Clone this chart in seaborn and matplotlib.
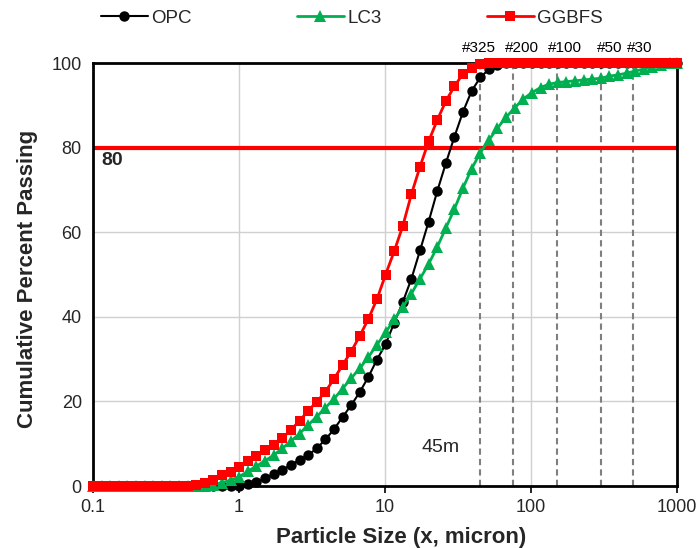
import matplotlib
matplotlib.use("Agg")
import matplotlib.pyplot as plt
import seaborn as sns
import pandas as pd

# Particle size bins (micron)
sizes = [0.100, 0.115, 0.131, 0.150, 0.172, 0.197, 0.226, 0.259, 0.296, 0.339,
         0.389, 0.445, 0.510, 0.584, 0.669, 0.766, 0.877, 1.005, 1.151, 1.318,
         1.510, 1.729, 1.981, 2.269, 2.599, 2.976, 3.409, 3.905, 4.472, 5.122,
         5.867, 6.720, 7.697, 8.816, 10.097, 11.565, 13.246, 15.172, 17.377, 19.904,
         22.797, 26.111, 29.907, 34.255, 39.234, 44.938, 51.471, 58.953, 67.523, 77.339,
         88.583, 101.46, 116.21, 133.10, 152.45, 174.62, 200.00, 229.07, 262.37, 300.51,
         344.20, 394.24, 451.55, 517.20, 592.39, 678.50, 777.14, 890.12, 1000.0]

# Cumulative percent passing
opc = [0, 0, 0, 0, 0, 0, 0, 0, 0, 0,
       0, 0, 0, 0, 0, 0, 0, 0.1, 0.4, 1.0,
       1.8, 2.8, 3.8, 5.0, 6.2, 7.3, 8.9, 11.0, 13.4, 16.3,
       19.1, 22.2, 25.8, 29.9, 33.5, 38.6, 43.5, 49.0, 55.7, 62.5,
       69.7, 76.3, 82.6, 88.5, 93.4, 96.6, 98.5, 99.6, 100, 100,
       100, 100, 100, 100, 100, 100, 100, 100, 100, 100,
       100, 100, 100, 100, 100, 100, 100, 100, 100]

lc3 = [0, 0, 0, 0, 0, 0, 0, 0, 0, 0,
       0, 0, 0, 0.1, 0.3, 0.8, 1.4, 2.2, 3.5, 4.7,
       6.0, 7.3, 8.9, 10.6, 12.4, 14.4, 16.4, 18.5, 20.6, 23.0,
       25.5, 27.8, 30.5, 33.4, 36.3, 39.4, 42.3, 45.5, 49.0, 52.5,
       56.5, 61.0, 65.5, 70.5, 75.0, 78.8, 81.8, 84.6, 87.2, 89.4,
       91.5, 93.0, 94.2, 95.0, 95.4, 95.6, 95.8, 96.0, 96.2, 96.4,
       96.9, 97.2, 97.6, 98.1, 98.6, 99.1, 99.5, 99.9, 100]

ggbfs = [0, 0, 0, 0, 0, 0, 0, 0, 0, 0,
         0, 0, 0.2, 0.6, 1.5, 2.6, 3.4, 4.5, 5.9, 7.1,
         8.5, 9.8, 11.3, 13.3, 15.4, 17.8, 19.9, 22.3, 25.3, 28.6,
         31.8, 35.5, 39.5, 44.2, 50.0, 55.5, 61.5, 69.0, 75.5, 81.5,
         86.5, 91.0, 94.5, 97.5, 98.9, 99.8, 100, 100, 100, 100,
         100, 100, 100, 100, 100, 100, 100, 100, 100, 100,
         100, 100, 100, 100, 100, 100, 100, 100, 100]

# Sieve openings (micron), their designations and where the labels sit
sieve_sizes = [45, 75, 150, 300, 500]
sieve_labels = ["#325", "#200", "#100", "#50", "#30"]
sieve_label_x = [44, 87, 171, 348, 558]

x_ticks = [0.1, 1, 10, 100, 1000]
x_tick_labels = ["0.1", "1", "10", "100", "1000"]
y_ticks = [0, 20, 40, 60, 80, 100]

df = pd.DataFrame({"size": sizes, "OPC": opc, "LC3": lc3, "GGBFS": ggbfs})

sns.set_theme(style="white")
plt.rcParams["font.family"] = ["Liberation Sans", "DejaVu Sans"]

fig = plt.figure(figsize=(6.97, 5.48), dpi=100)
ax = fig.add_axes([0.1334, 0.1131, 0.8379, 0.7719])

ax.set_xscale("log")
ax.set_xlim(0.1, 1000)
ax.set_ylim(0, 100)

# light grid at decades and every 20 %
for xv in [1, 10, 100]:
    ax.axvline(xv, color="#D0D0D0", lw=1.0, zorder=0)
for yv in [20, 40, 60, 80]:
    ax.axhline(yv, color="#D0D0D0", lw=1.0, zorder=0)

# sieve lines
for s in sieve_sizes:
    ax.axvline(s, color="#7F7F7F", lw=1.5, ls=(0, (3, 2)), zorder=1)
for lx, lab in zip(sieve_label_x, sieve_labels):
    ax.text(lx, 102.0, lab, ha="center", va="bottom", fontsize=11, color="#000000")

series = [
    ("OPC", "black", "o", 7.5, 1.5),
    ("LC3", "#00B050", "^", 8.5, 2.0),
    ("GGBFS", "#FF0000", "s", 7.0, 2.0),
]
for name, color, marker, ms, lw in series:
    sns.lineplot(data=df, x="size", y=name, ax=ax, color=color, marker=marker,
                 markersize=ms, markeredgewidth=0, lw=lw, label=name, zorder=3,
                 clip_on=False)

# 80 % passing reference line
ax.axhline(80, color="#FF0000", lw=3, zorder=2)
ax.text(0.115, 79.0, "80", fontsize=14, fontweight="bold", ha="left", va="top")
ax.text(24.2, 9.2, "45m", fontsize=14, ha="center", va="center")

ax.set_xticks(x_ticks)
ax.set_xticklabels(x_tick_labels)
ax.xaxis.set_minor_locator(matplotlib.ticker.NullLocator())
ax.set_yticks(y_ticks)
ax.tick_params(axis="x", which="major", length=5, width=1.2, color="black",
               labelsize=13, pad=4, direction="out", bottom=True)
ax.tick_params(axis="y", length=0, labelsize=13, pad=8)

ax.set_xlabel("Particle Size (x, micron)", fontsize=16, fontweight="bold")
ax.xaxis.set_label_coords(0.527, -0.098)
ax.set_ylabel("Cumulative Percent Passing", fontsize=16, fontweight="bold")
ax.yaxis.set_label_coords(-0.094, 0.49)

for sp in ax.spines.values():
    sp.set_visible(True)
    sp.set_color("black")
    sp.set_linewidth(2)

handles, labels = ax.get_legend_handles_labels()
ax.get_legend().remove()
fig.legend(handles, labels, loc="center", bbox_to_anchor=(0.505, 0.967), ncol=3,
           frameon=False, fontsize=13.5, handlelength=2.5, columnspacing=5.6,
           handletextpad=0.2)

fig.savefig("out.png", dpi=100)
